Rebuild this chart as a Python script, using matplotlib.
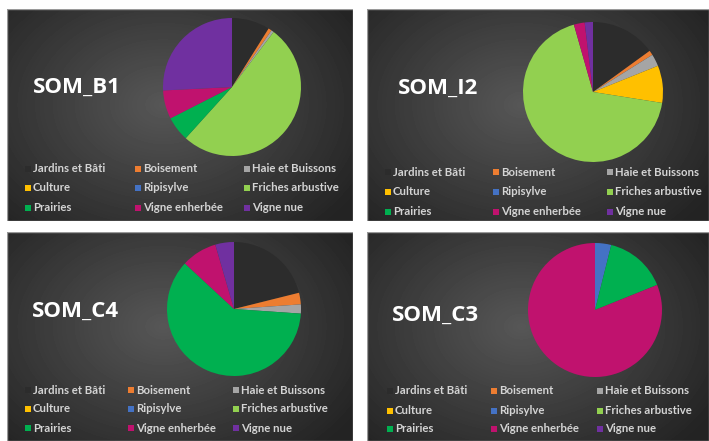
import matplotlib.pyplot as plt
import numpy as np
from matplotlib.patches import Rectangle

W, H = 709, 441

categories = ["Jardins et Bâti", "Boisement", "Haie et Buissons",
              "Culture", "Ripisylve", "Friches arbustive",
              "Prairies", "Vigne enherbée", "Vigne nue"]
colors = ["#2c2c2c", "#ED7D31", "#A5A5A5", "#FFC000", "#4472C4",
          "#92D050", "#00B050", "#C0126E", "#7030A0"]

# share of each land use (%)
som_b1 = [8.9, 0.8, 0.6, 0, 0, 51.4, 5.8, 6.7, 25.8]
som_i2 = [15.0, 1.1, 2.8, 8.6, 0, 68.1, 0, 2.5, 1.9]
som_c4 = [21.1, 2.8, 2.2, 0, 0, 0, 60.8, 8.6, 4.5]
som_c3 = [0, 0, 0, 0, 3.9, 0, 15.0, 81.1, 0]

fig = plt.figure(figsize=(W / 100, H / 100), dpi=100)
fig.patch.set_facecolor("white")


def box(x0, y0, x1, y1):
    return [x0 / W, 1 - y1 / H, (x1 - x0) / W, (y1 - y0) / H]


def panel(frame, title, title_xy, values, pie_c, pie_r, leg_x, leg_y):
    x0, y0, x1, y1 = frame
    bg = fig.add_axes(box(x0, y0, x1, y1))
    w, h = x1 - x0, y1 - y0
    yy, xx = np.mgrid[0:h, 0:w]
    d = np.sqrt(((xx - w * 0.45) / (w * 0.62)) ** 2 + ((yy - h * 0.45) / (h * 0.75)) ** 2)
    shade = np.clip(0.34 - 0.19 * d, 0.14, 0.34)
    bg.imshow(shade, cmap="gray", vmin=0, vmax=1, aspect="auto",
              extent=[0, w, h, 0], interpolation="bilinear")
    bg.set_xlim(0, w)
    bg.set_ylim(h, 0)
    bg.axis("off")
    bg.add_patch(Rectangle((0, 0), w, h, fill=False, edgecolor="#9a9a9a", lw=1.0))

    bg.text(title_xy[0] - x0, title_xy[1] - y0, title, color="white",
            fontsize=16, fontweight="bold", family="Open Sans", va="center")

    for i, (lab, col) in enumerate(zip(categories, colors)):
        r, c = divmod(i, 3)
        mx = leg_x[c] - x0
        my = leg_y[r] - y0
        bg.add_patch(Rectangle((mx - 3, my - 3), 6, 6, color=col, lw=0))
        bg.text(mx + 5, my, lab, color="#d4d4d4", fontsize=8.2,
                family="Lato", fontweight="bold", va="center", ha="left")

    cx, cy = pie_c
    pa = fig.add_axes(box(cx - pie_r, cy - pie_r, cx + pie_r, cy + pie_r))
    pa.pie(values, colors=colors, startangle=90, counterclock=False,
           wedgeprops=dict(linewidth=0))
    pa.set_xlim(-1, 1)
    pa.set_ylim(-1, 1)
    pa.axis("off")


panel((7, 9, 353, 221), "SOM_B1", (33, 87), som_b1, (232, 87), 69,
      (28, 138, 247), (169, 188, 208))
panel((367, 9, 709, 221), "SOM_I2", (398, 88), som_i2, (593, 92), 70,
      (388, 496, 610), (172, 192, 212))
panel((7, 232, 353, 441), "SOM_C4", (32, 311), som_c4, (234, 309), 67,
      (28, 131, 236), (390, 409, 428))
panel((367, 232, 709, 441), "SOM_C3", (392, 315), som_c3, (595, 310), 67,
      (390, 494, 600), (391, 411, 429))

fig.savefig("out.png", dpi=100)
